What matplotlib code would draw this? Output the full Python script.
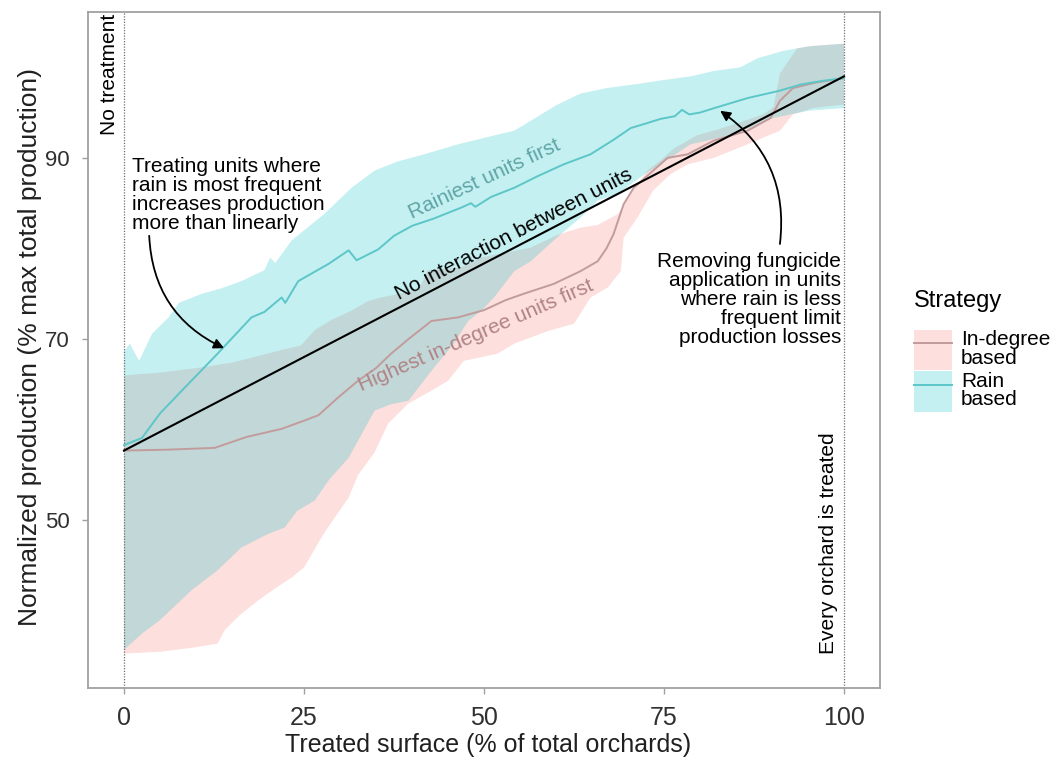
import numpy as np
import matplotlib
matplotlib.use("Agg")
import matplotlib.pyplot as plt
from matplotlib.patches import Patch
from matplotlib.lines import Line2D

plt.rcParams['font.family'] = ['Liberation Sans', 'DejaVu Sans']
NARROW = ['Liberation Sans Narrow', 'Liberation Sans', 'DejaVu Sans']

# ---------------- data ----------------
# Rain based strategy: mean curve
rain_mean_x = [0, 2.5, 5, 8.5, 13, 17.7, 19.5, 21.9, 22.4, 24.2, 28.4, 31.2, 32.3, 35.3, 37.5,
               40, 43, 46.8, 48.2, 48.8, 51, 54.2, 57.5, 61.1, 64.8, 68, 70.4, 72.5, 74.5,
               76.5, 77.5, 78.5, 80, 82, 86.6, 91, 94, 97, 100]
rain_mean_y = [58.3, 59.1, 61.8, 64.7, 68.4, 72.4, 73.0, 74.6, 74.0, 76.4, 78.3, 79.8, 78.7,
               79.9, 81.4, 82.5, 83.3, 84.5, 85.0, 84.6, 85.7, 86.7, 88.0, 89.3, 90.4, 92.0,
               93.3, 93.8, 94.3, 94.6, 95.3, 94.8, 95.0, 95.5, 96.6, 97.4, 98.1, 98.5, 98.8]

# Rain based strategy: envelope
rain_up_x = [0, 0.8, 2.1, 3.9, 6.2, 7.6, 10.8, 13.5, 16.3, 19.5, 20.3, 21, 23.3, 27.8, 31.6,
             34.8, 38, 41.7, 46.4, 51, 54.2, 56.5, 60, 63.4, 67, 71.7, 75, 78.7, 82, 85.6,
             88, 91.5, 95, 100]
rain_up_y = [68.6, 69.5, 67.6, 70.6, 72.4, 74.0, 75.0, 75.6, 76.4, 77.6, 79.0, 78.4, 80.9,
             83.8, 86.7, 88.6, 89.6, 90.4, 91.5, 92.4, 93.0, 94.1, 95.8, 97.1, 97.7, 98.2,
             98.6, 99.0, 99.6, 100.0, 101.0, 101.8, 102.3, 102.6]
rain_lo_x = [0, 2.5, 5, 9.4, 13, 16.3, 20, 22.3, 24, 26.5, 28.5, 31.2, 34.8, 37, 39.5, 42.7,
             45.8, 47.8, 49.6, 51.4, 54.2, 56.5, 59.7, 60.7, 63.4, 65.8, 68.6, 70.4, 72.5,
             74.5, 78.7, 83.2, 86.6, 90.2, 95, 100]
rain_lo_y = [35.7, 37.5, 39.0, 42.3, 44.5, 47.0, 48.5, 49.2, 51.0, 52.2, 54.5, 56.9, 62.1,
             62.8, 63.2, 66.5, 69.5, 72.0, 73.1, 74.6, 77.5, 78.6, 80.9, 81.6, 83.4, 85.3,
             86.0, 87.1, 88.3, 89.3, 91.5, 92.3, 93.2, 94.4, 95.2, 95.5]

# In-degree based strategy: mean curve
deg_mean_x = [0, 6, 12.6, 17, 21.9, 25, 27, 29.8, 32.5, 35, 37.1, 39.5, 42.7, 46.4, 50, 53,
              55.5, 59.7, 63.4, 65.8, 67, 68, 69.4, 70.8, 73.5, 75.5, 78.3, 81.9, 86.6,
              89.8, 91.1, 92.9, 96, 100]
deg_mean_y = [57.7, 57.8, 58.0, 59.2, 60.1, 61.0, 61.6, 63.6, 65.4, 66.8, 68.4, 70.0, 72.0,
              72.4, 73.2, 74.3, 75.0, 76.1, 77.5, 78.6, 80.0, 81.6, 84.9, 86.7, 88.6, 90.0,
              90.4, 91.9, 93.0, 94.4, 96.3, 97.7, 98.3, 98.8]

# In-degree based strategy: envelope
deg_up_x = [0, 5, 10, 15, 21.9, 24.6, 26.5, 29, 31.5, 33.9, 35.7, 40.9, 42.2, 46.8, 49.6,
            56.5, 60.2, 63.4, 65.8, 68.6, 70.4, 72.7, 74.5, 76.3, 79.6, 83.2, 86.6, 88.8,
            90.2, 91.1, 93.5, 96, 100]
deg_up_y = [66.0, 66.3, 66.8, 67.4, 68.8, 69.3, 71.0, 72.2, 73.1, 74.2, 74.6, 75.4, 77.6,
            77.9, 79.0, 80.1, 81.5, 82.3, 82.6, 83.8, 86.0, 88.6, 89.7, 91.0, 92.5, 93.3,
            94.2, 94.8, 95.6, 99.3, 102.1, 102.4, 102.6]
deg_lo_x = [0, 5, 10, 13, 14, 16, 18.7, 21, 23.3, 25, 27.8, 29, 31.2, 32.5, 34.8, 36.7, 39.5,
            42, 45, 47.2, 51.9, 54.2, 58.9, 62.5, 64.8, 67.2, 69, 69.4, 71.3, 73.5, 75.9,
            78.3, 81.9, 86.6, 91.1, 92.9, 95.7, 100]
deg_lo_y = [35.3, 35.5, 36.0, 36.4, 37.9, 39.5, 41.2, 42.5, 43.7, 44.8, 48.6, 50.0, 52.5,
            55.0, 57.5, 60.7, 62.9, 64.0, 65.4, 67.6, 68.4, 69.5, 70.9, 71.7, 74.6, 75.7,
            77.5, 81.2, 83.4, 86.4, 88.2, 89.3, 90.0, 91.5, 93.0, 94.8, 95.5, 95.9]

# Reference: treating units independently (straight line between extremes)
linear_x = [0, 100]
linear_y = [57.7, 99.0]

x_ticks = [0, 25, 50, 75, 100]
y_ticks = [50, 70, 90]

strategies = ['In-degree\nbased', 'Rain\nbased']
fill_colors = ['#F8766D', '#00BFC4']
line_colors = ['#c29c9d', '#5cc6c9']

# ---------------- figure ----------------
W, H = 1054, 760
fig = plt.figure(figsize=(W / 100, H / 100), dpi=100)
ax = fig.add_axes([88 / W, 1 - 688 / H, (880 - 88) / W, (688 - 12) / H])
ax.set_xlim(-5, 105)
ax.set_ylim(31.5, 106.1)


def ribbon(xu, yu, xl, yl, color):
    px = np.concatenate([np.asarray(xu, float), np.asarray(xl, float)[::-1]])
    py = np.concatenate([np.asarray(yu, float), np.asarray(yl, float)[::-1]])
    ax.fill(px, py, color=color, alpha=0.23, lw=0, zorder=1)


ribbon(deg_up_x, deg_up_y, deg_lo_x, deg_lo_y, fill_colors[0])
ribbon(rain_up_x, rain_up_y, rain_lo_x, rain_lo_y, fill_colors[1])

ax.plot(deg_mean_x, deg_mean_y, color=line_colors[0], lw=1.4, zorder=3)
ax.plot(rain_mean_x, rain_mean_y, color=line_colors[1], lw=1.4, zorder=3)
ax.plot(linear_x, linear_y, color='black', lw=1.5, zorder=4)

for xv in (0, 100):
    ax.axvline(xv, color='#6f6f6f', ls=(0, (1, 1.2)), lw=0.9, zorder=2)

# curve labels
ax.text(50.0, 87.7, 'Rainiest units first', color='#5fa4a6', fontsize=15,
        rotation=25, ha='center', va='center', rotation_mode='anchor', zorder=5)
ax.text(54.2, 81.6, 'No interaction between units', color='black', fontsize=15,
        rotation=27.4, ha='center', va='center', rotation_mode='anchor', zorder=5)
ax.text(48.9, 70.4, 'Highest in-degree units first', color='#b08486', fontsize=15,
        rotation=23.5, ha='center', va='center', rotation_mode='anchor', zorder=5)

# reference annotations
ax.text(-0.7, 105.9, 'No treatment', rotation=90, ha='right', va='top', fontsize=15,
        color='black', zorder=5)
ax.text(99.2, 35.3, 'Every orchard is treated', rotation=90, ha='right', va='bottom',
        fontsize=15, color='black', zorder=5)

ax.text(1.1, 90.1, 'Treating units where\nrain is most frequent\nincreases production\n'
        'more than linearly', ha='left', va='top', fontsize=15, linespacing=1.0, zorder=5)
ax.annotate('', xy=(13.9, 69.0), xytext=(3.5, 81.4),
            arrowprops=dict(arrowstyle='-|>', connectionstyle='arc3,rad=0.3', color='black',
                            lw=1.3, mutation_scale=15, shrinkA=0, shrinkB=0), zorder=6)

ax.text(99.6, 79.6, 'Removing fungicide\napplication in units\nwhere rain is less\n'
        'frequent limit\nproduction losses', ha='right', va='top', multialignment='right',
        fontsize=15, linespacing=1.0, zorder=5)
ax.annotate('', xy=(82.8, 95.2), xytext=(91.1, 80.5),
            arrowprops=dict(arrowstyle='-|>', connectionstyle='arc3,rad=0.3', color='black',
                            lw=1.3, mutation_scale=15, shrinkA=0, shrinkB=0), zorder=6)

# axes styling
for sp in ax.spines.values():
    sp.set_color('#a0a0a0')
    sp.set_linewidth(1.3)
ax.set_xticks(x_ticks, labels=[str(v) for v in x_ticks], fontsize=18, family=NARROW)
ax.set_yticks(y_ticks, labels=[str(v) for v in y_ticks], fontsize=16)
ax.tick_params(axis='both', direction='out', length=4, width=1, color='#a0a0a0',
               labelcolor='#303030', pad=9)

fig.text(30 / W, 1 - 347.5 / H, 'Normalized production (% max total production)',
         rotation=90, ha='center', va='center', fontsize=19, color='#202020')
fig.text(488 / W, 1 - 745 / H, 'Treated surface (% of total orchards)', ha='center',
         va='center', fontsize=18, family=NARROW, color='#202020')

# legend: title set on its own, keys below it
fig.text(914 / W, 1 - 301 / H, 'Strategy', ha='left', va='center', fontsize=17,
         color='black')
handles = [(Patch(facecolor=fill_colors[i], alpha=0.23, lw=0),
            Line2D([], [], color=line_colors[i], lw=1.4)) for i in range(2)]
leg = fig.legend(handles, strategies, loc='upper left',
                 bbox_to_anchor=(914 / W, 1 - 330 / H), frameon=False, fontsize=15,
                 handlelength=1.8, handleheight=2.6, handletextpad=0.45,
                 labelspacing=0.05, borderpad=0, borderaxespad=0)
for t in leg.get_texts():
    t.set_linespacing(0.95)

fig.savefig('out.png', dpi=100)
